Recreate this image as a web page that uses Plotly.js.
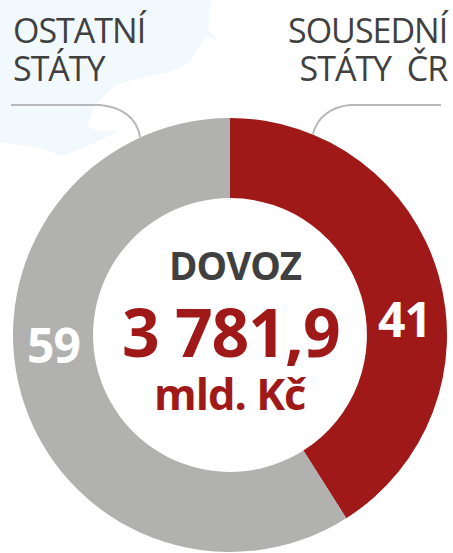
<!DOCTYPE html>
<html><head><meta charset="utf-8">
<script src="https://cdn.plot.ly/plotly-3.0.1.min.js"></script>
<style>html,body{margin:0;padding:0;background:#fff}
.annotation-text{letter-spacing:-1px}</style></head>
<body><div id="chart" style="width:453px;height:553px"></div>
<script>
const categories = ["SOUSEDNÍ STÁTY ČR", "OSTATNÍ STÁTY"];
const shares = [41, 59];
const sliceColors = ["#a01919", "#b1b1af"];
const W = 453, H = 553;
const px = (x, y) => (x / W).toFixed(4) + "," + (1 - y / H).toFixed(4);
const pathOf = s => s.replace(/(-?[\d.]+),(-?[\d.]+)/g, (m, a, b) => px(+a, +b));
const ann = (text, x, y, size, color, weight, anchor) => ({
  text, x: x / W, y: 1 - y / H, xref: "paper", yref: "paper", showarrow: false,
  xanchor: anchor || "center", yanchor: "middle", align: anchor || "center",
  font: {family: "'Open Sans', 'Noto Sans', sans-serif", size, color, weight: weight || 400}
});
const big = s => '<span style="font-size:34px">' + s + '</span>';
const layout = {
  width: W, height: H, margin: {l: 0, r: 0, t: 0, b: 0}, showlegend: false,
  paper_bgcolor: "#ffffff",
  shapes: [
    {type: "path", xref: "paper", yref: "paper", layer: "below", line: {width: 0}, fillcolor: "#f2f9fc",
     path: "M" + pathOf("0,0 L211,0 L209,10 L209,22 L208,30 L218,40 L207,37 L200,45 L190,62 L170,72 L140,78 L115,85 L95,105 L87,125 L95,130 L118,132 L90,145 L62,156 L40,148 L0,142") + " Z"},
    {type: "path", xref: "paper", yref: "paper", line: {color: "#b8b8b8", width: 2}, fillcolor: "rgba(0,0,0,0)",
     path: "M" + pathOf("11,105 L100,105 C122,107 137,118 140,137")},
    {type: "path", xref: "paper", yref: "paper", line: {color: "#b8b8b8", width: 2}, fillcolor: "rgba(0,0,0,0)",
     path: "M" + pathOf("441,105 L350,105 C330,107 317,118 313,134")}
  ],
  annotations: [
    ann(big("OSTATNÍ") + "<br>" + big("STÁTY"), 11, 49, 29.5, "#404040", 400, "left"),
    ann(big("SOUSEDNÍ") + "<br>" + big("STÁTY\u00a0 ČR"), 451, 49, 29.5, "#404040", 400, "right"),
    ann("DOVOZ", 235, 265, 38.5, "#404040", 700),
    ann("3 781,9", 231, 331, 66, "#a01919", 700),
    ann("mld. Kč", 230, 393, 43.5, "#a01919", 700),
    ann(String(shares[0]), 404, 318, 48, "#ffffff", 700),
    ann(String(shares[1]), 53, 344, 48, "#ffffff", 700)
  ]
};
const data = [{
  type: "pie", labels: categories, values: shares, sort: false, direction: "clockwise", rotation: 0,
  hole: 0.631, textinfo: "none", hoverinfo: "label+value",
  marker: {colors: sliceColors, line: {width: 0}},
  domain: {x: [13 / W, 447 / W], y: [1 / H, 1 - 118 / H]}
}];
Plotly.newPlot("chart", data, layout, {displayModeBar: false, staticPlot: true});
</script></body></html>
